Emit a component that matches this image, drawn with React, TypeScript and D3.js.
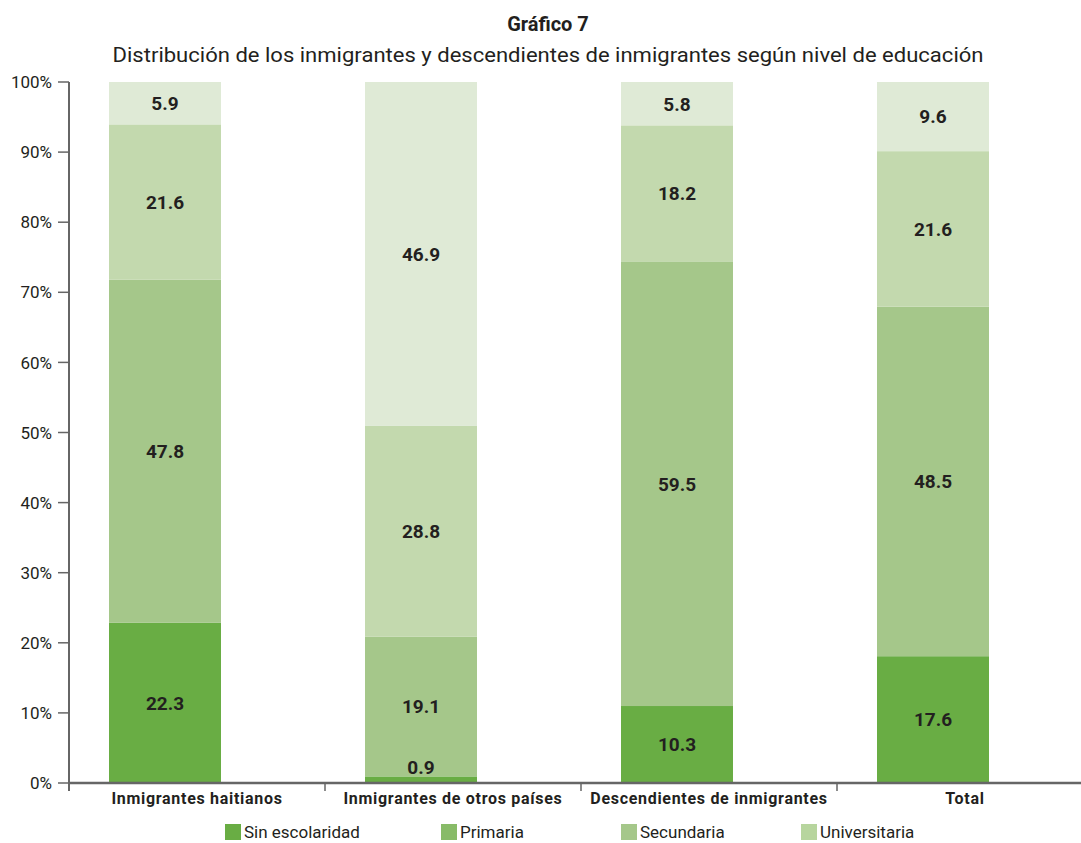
import React from "react";
import * as d3 from "d3";

const categories = [
  "Inmigrantes haitianos",
  "Inmigrantes de otros países",
  "Descendientes de inmigrantes",
  "Total",
];
const seriesNames = ["Sin escolaridad", "Primaria", "Secundaria", "Universitaria"];
const sinEscolaridad = [22.3, 0.9, 10.3, 17.6];
const primaria = [47.8, 19.1, 59.5, 48.5];
const secundaria = [21.6, 28.8, 18.2, 21.6];
const universitaria = [5.9, 46.9, 5.8, 9.6];
const yTicks = [0, 10, 20, 30, 40, 50, 60, 70, 80, 90, 100];

const barColors = ["#69ad44", "#a5c78a", "#c3d9ae", "#dfead6"];
const legendColors = ["#69ad44", "#88bb68", "#a5c78a", "#b7d59e"];
const legendX = [225, 441, 621, 801];

const W = 1081;
const H = 843;
const FONT = "Roboto, 'DejaVu Sans', sans-serif";

export default function App() {
  const seriesArrays = [sinEscolaridad, primaria, secundaria, universitaria];
  const rows = categories.map((c, i) => {
    const r: any = { cat: c };
    seriesNames.forEach((s, j) => (r[s] = seriesArrays[j][i]));
    return r;
  });
  const stack = d3.stack<any>().keys(seriesNames).offset(d3.stackOffsetExpand);
  const stacked = stack(rows);

  const x = d3.scaleBand<string>().domain(categories).range([69, 69 + 256 * 4]).padding(0);
  const y = d3.scaleLinear().domain([0, 1]).range([783, 82]);
  const barOffset = 40;
  const barW = 112;

  return (
    <svg
      width={W}
      height={H}
      style={{ position: "absolute", left: 0, top: 0, background: "#fff" }}
      fontFamily={FONT}
    >
      <text x={548} y={31} textAnchor="middle" fontWeight="bold" fontSize={20} fill="#231f20">
        Gráfico 7
      </text>
      <text
        x={548}
        y={62}
        textAnchor="middle"
        fontSize={21}
        fill="#231f20"
        textLength={871}
        lengthAdjust="spacingAndGlyphs"
      >
        Distribución de los inmigrantes y descendientes de inmigrantes según nivel de educación
      </text>

      {stacked.map((layer, j) => (
        <g key={layer.key}>
          {layer.map((d, i) => {
            const x0 = (x(categories[i]) as number) + barOffset;
            const yTop = y(d[1]);
            const yBot = y(d[0]);
            return (
              <rect
                key={i}
                x={x0}
                y={yTop}
                width={barW}
                height={yBot - yTop}
                fill={barColors[j]}
              />
            );
          })}
        </g>
      ))}

      {stacked.map((layer, j) => (
        <g key={"l" + layer.key}>
          {layer.map((d, i) => {
            const cx = (x(categories[i]) as number) + barOffset + barW / 2;
            const yTop = y(d[1]);
            const yBot = y(d[0]);
            const small = yBot - yTop < 20;
            const cy = small ? yTop - 9 : (yTop + yBot) / 2;
            return (
              <text
                key={i}
                x={cx}
                y={cy}
                dy="0.36em"
                textAnchor="middle"
                fontWeight="bold"
                fontSize={19}
                fill="#231f20"
              >
                {seriesArrays[j][i].toFixed(1)}
              </text>
            );
          })}
        </g>
      ))}

      {/* y axis */}
      <line x1={69} x2={69} y1={82} y2={791} stroke="#666" strokeWidth={2} />
      {yTicks.map((t) => (
        <g key={t}>
          <line x1={58} x2={69} y1={y(t / 100)} y2={y(t / 100)} stroke="#666" strokeWidth={1.5} />
          <text
            x={52}
            y={y(t / 100)}
            dy="0.36em"
            textAnchor="end"
            fontSize={17}
            fill="#231f20"
          >
            {t}%
          </text>
        </g>
      ))}

      {/* x axis */}
      <line x1={69} x2={W} y1={783} y2={783} stroke="#666" strokeWidth={2.5} />
      {categories.slice(1).map((c) => (
        <line
          key={c}
          x1={x(c) as number}
          x2={x(c) as number}
          y1={783}
          y2={791}
          stroke="#666"
          strokeWidth={1.5}
        />
      ))}
      {categories.map((c) => (
        <text
          key={c}
          x={(x(c) as number) + x.bandwidth() / 2}
          y={804}
          textAnchor="middle"
          fontWeight="bold"
          fontSize={16}
          letterSpacing={0.7}
          fill="#231f20"
        >
          {c}
        </text>
      ))}

      {/* legend */}
      {seriesNames.map((s, j) => (
        <g key={s}>
          <rect x={legendX[j]} y={824} width={16} height={16} fill={legendColors[j]} />
          <text x={legendX[j] + 19} y={838} fontSize={17} fill="#231f20">
            {s}
          </text>
        </g>
      ))}
    </svg>
  );
}
